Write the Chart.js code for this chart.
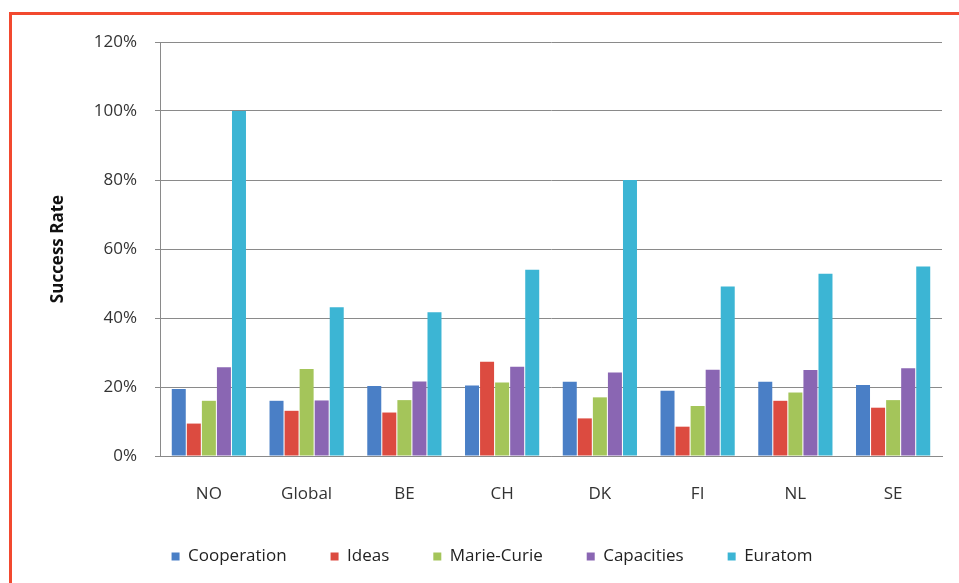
<!DOCTYPE html>
<html>
<head>
<meta charset="utf-8">
<script src="https://cdn.jsdelivr.net/npm/chart.js@4"></script>
<style>
  body { margin: 0; background: #fff; }
  #frame { position: absolute; left: 9px; top: 12px; width: 970px; height: 600px;
    border-top: 3px solid #f2492f; border-left: 3px solid #f2492f; }
  #wrap { position: absolute; left: 0; top: 0; width: 959px; height: 583px; }
</style>
</head>
<body>
<div id="frame"></div>
<div id="wrap"><canvas id="rates" width="959" height="583"></canvas></div>
<script>
const countries = ['NO', 'Global', 'BE', 'CH', 'DK', 'FI', 'NL', 'SE']
const cooperation = [19.4, 16.0, 20.3, 20.4, 21.5, 18.9, 21.5, 20.6]
const ideas = [9.4, 13.1, 12.6, 27.3, 10.9, 8.5, 16.0, 14.0]
const marieCurie = [16.0, 25.2, 16.2, 21.3, 17.0, 14.5, 18.4, 16.2]
const capacities = [25.7, 16.1, 21.6, 25.9, 24.2, 25.0, 24.9, 25.4]
const euratom = [100, 43.1, 41.7, 54.0, 80.0, 49.1, 52.8, 54.9]
const yTicks = [0, 20, 40, 60, 80, 100, 120]

const font = "'Open Sans', 'Liberation Sans', sans-serif"

const ctxRates = document.getElementById('rates')
if(ctxRates) {
  const rates = {
    type: 'bar',
    data: {
      labels: countries,
      datasets: [
        { label: 'Cooperation', backgroundColor: '#4a7fc6', data: cooperation },
        { label: 'Ideas', backgroundColor: '#dc4b40', data: ideas },
        { label: 'Marie-Curie', backgroundColor: '#a4c55a', data: marieCurie },
        { label: 'Capacities', backgroundColor: '#8a66b3', data: capacities },
        { label: 'Euratom', backgroundColor: '#3cb5d4', data: euratom },
      ],
    },
    options: {
      responsive: false,
      animation: false,
      categoryPercentage: 0.77,
      barPercentage: 0.93,
      // left padding shifts the legend centre to match the original
      layout: { padding: { left: 42, right: 17, top: 42, bottom: 8 } },
      plugins: {
        legend: {
          display: true,
          position: 'bottom',
          labels: {
            font: { family: font, size: 17 },
            color: '#222',
            boxWidth: 8,
            boxHeight: 8,
            padding: 44,
          },
        },
        tooltip: { enabled: false },
      },
      scales: {
        x: {
          grid: { display: false, drawTicks: false },
          border: { display: true, color: '#8a8a8a', width: 1 },
          ticks: { font: { family: font, size: 17 }, color: '#333', padding: 28 },
          afterFit: function(scale) { scale.height = 48 },
        },
        y: {
          min: 0,
          max: 120,
          afterBuildTicks: function(scale) { scale.ticks = yTicks.map(v => ({ value: v })) },
          grid: { color: '#8a8a8a', lineWidth: 1, tickLength: 5 },
          border: { display: true, color: '#8a8a8a', width: 1 },
          ticks: {
            font: { family: font, size: 17 },
            color: '#333',
            padding: 18,
            callback: function(value) { return value + '%' },
          },
          title: {
            display: true,
            text: 'Success Rate',
            font: { family: font, size: 17, weight: 'bold' },
            color: '#111',
            padding: { top: 6, bottom: 0 },
          },
          afterFit: function(scale) { scale.width = 118 },
        },
      },
    },
  }

  window.myBar = new Chart(ctxRates, rates)
}
</script>
</body>
</html>
